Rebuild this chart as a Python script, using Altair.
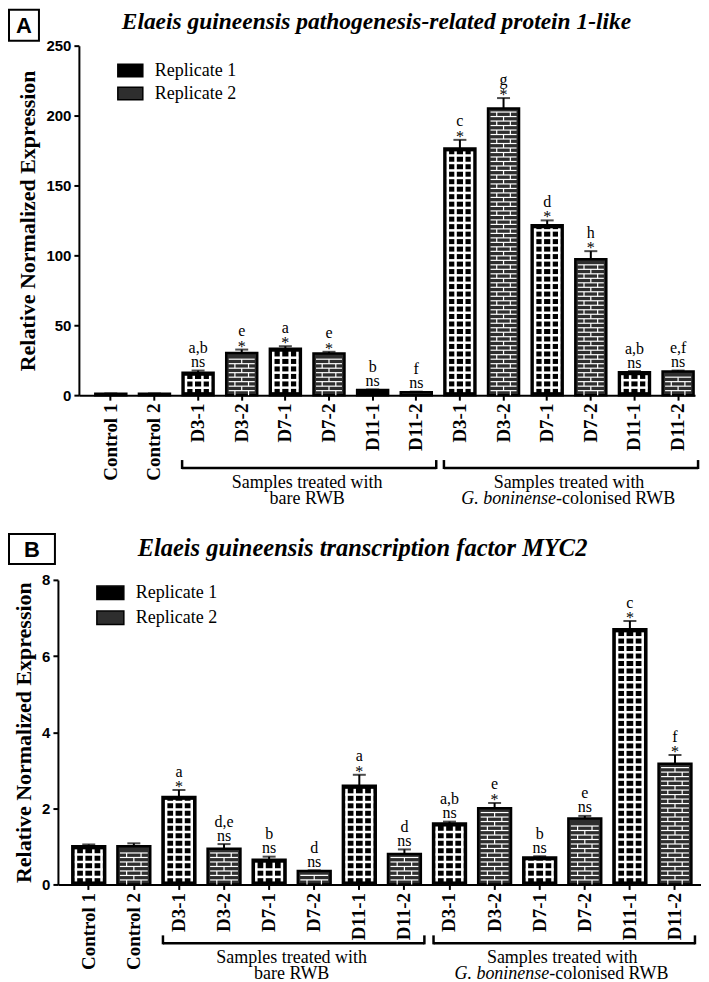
import altair as alt
import pandas as pd

SERIF = "Liberation Serif"
SANS = "Liberation Sans"

LABELS = ["Control 1", "Control 2", "D3-1", "D3-2", "D7-1", "D7-2", "D11-1", "D11-2",
          "D3-1", "D3-2", "D7-1", "D7-2", "D11-1", "D11-2"]
GROUPS = ["ctrl", "ctrl", "bare", "bare", "bare", "bare", "bare", "bare",
          "col", "col", "col", "col", "col", "col"]
REPLICATES = ["Replicate 1", "Replicate 2"] * 7

A_MEAN = [1.0, 1.0, 16.0, 30.2, 33.2, 29.8, 3.6, 2.1, 176.5, 205.0, 121.5, 97.2, 16.4, 17.0]
A_UPPER = [1.2, 1.2, 17.6, 32.6, 35.0, 31.0, 4.0, 2.5, 182.6, 212.5, 125.0, 103.0, 17.2, 17.6]
A_LETTER = ["", "", "a,b", "e", "a", "e", "b", "f", "c", "g", "d", "h", "a,b", "e,f"]
A_SIG = ["", "", "ns", "*", "*", "*", "ns", "ns", "*", "*", "*", "*", "ns", "ns"]
A_TICKS = [0, 50, 100, 150, 200, 250]

B_MEAN = [1.0, 1.0, 2.30, 0.94, 0.65, 0.35, 2.59, 0.80, 1.60, 2.00, 0.71, 1.73, 6.70, 3.17]
B_UPPER = [1.05, 1.08, 2.48, 1.06, 0.73, 0.37, 2.88, 0.92, 1.65, 2.14, 0.74, 1.80, 6.92, 3.40]
B_LETTER = ["", "", "a", "d,e", "b", "d", "a", "d", "a,b", "e", "b", "e", "c", "f"]
B_SIG = ["", "", "*", "ns", "ns", "ns", "*", "ns", "ns", "*", "ns", "ns", "*", "*"]
B_TICKS = [0, 2, 4, 6, 8]

TITLE_A = "Elaeis guineensis pathogenesis-related protein 1-like"
TITLE_B = "Elaeis guineensis transcription factor MYC2"

KEYS = [f"{l}|{g}" for l, g in zip(LABELS, GROUPS)]


def make_panel(mean, upper, letter, sig, ticks, W, r0, H, pI, pO, al, leg, title, tx, ty,
               tsize, box, boxletter, brk_y, ysize):
    ymax = ticks[-1]
    ppu = H / ymax
    step = (W - r0) / (len(KEYS) - pI + 2 * pO)
    bw = step * (1 - pI)
    df = pd.DataFrame({"key": KEYS, "rep": REPLICATES, "mean": mean, "upper": upper,
                       "letter": letter, "sig": sig})
    base = alt.Chart(df)

    xscale = alt.Scale(domain=KEYS, range=[r0, W], paddingInner=pI, paddingOuter=pO,
                       align=al)
    xaxis = alt.Axis(labelExpr="split(datum.label, '|')[0]", labelAngle=-90,
                     labelFont=SERIF, labelFontWeight="bold", labelFontSize=19,
                     labelPadding=3, tickSize=5, tickWidth=2, domainWidth=2,
                     labelAlign="right", labelBaseline="middle", labelOverlap=False,
                     title=None)
    yscale = alt.Scale(domain=[0, ymax], nice=False, zero=True)
    yaxis = alt.Axis(values=ticks, labelFont=SANS, labelFontWeight="bold", labelFontSize=15,
                     tickSize=5, tickWidth=2, domainWidth=2, labelPadding=3,
                     title="Relative Normalized Expression", titleFont=SERIF,
                     titleFontSize=ysize, titleFontWeight="bold", titlePadding=6,
                     grid=False, offset=-r0)

    def xq(field):
        return alt.X(f"{field}:N", scale=xscale, axis=xaxis, title=None, bandPosition=0.5)

    def xb(field):
        return alt.X(f"{field}:N", scale=xscale, axis=xaxis, title=None)

    def yq(field):
        return alt.Y(f"{field}:Q", scale=yscale, axis=yaxis,
                     title="Relative Normalized Expression")

    bars = base.mark_bar(stroke="black", strokeWidth=2.5).encode(
        x=xb("key"), y=yq("mean"),
        color=alt.Color("rep:N", scale=alt.Scale(domain=["Replicate 1", "Replicate 2"],
                                                  range=["#000000", "#2e2e2e"]),
                        legend=alt.Legend(title=None, orient="none", legendX=leg[0],
                                          legendY=leg[1],
                                          symbolType="M-1,-0.5H1V0.5H-1Z",
                                          symbolSize=leg[2], symbolStrokeColor="black",
                                          symbolStrokeWidth=1.5, symbolOpacity=1,
                                          labelFont=SERIF, labelFontSize=18,
                                          labelColor="black", labelOffset=11,
                                          rowPadding=leg[3])))

    def tall(rep):
        return base.transform_filter(f"datum.rep == '{rep}' && datum.mean * {ppu} > 10")

    def rows(rep, step_px, thick):
        st = step_px / ppu
        inset = 3.0 / ppu
        return tall(rep).transform_calculate(
            ks=f"sequence(1, floor((datum.mean - {inset}) / {st}) + 1)"
        ).transform_flatten(["ks"]).transform_calculate(
            yy=f"datum.ks * {st}"
        ).mark_tick(color="white", thickness=thick, size=bw - 5, opacity=1).encode(
            x=xq("key"), y=yq("yy"))

    layers = [bars, rows("Replicate 1", 7.5, 2.5), rows("Replicate 2", 4.5, 1.2)]
    # grid pattern (replicate 1)
    for off in [-0.39 * bw, -0.14 * bw, 0.14 * bw, 0.39 * bw]:
        layers.append(tall("Replicate 1").mark_rule(
            color="white", strokeWidth=2.5, xOffset=off, yOffset=3, y2Offset=-3
        ).encode(x=xq("key"), y=yq("mean"), y2=alt.datum(0)))
    # brick joints (replicate 2)
    st2 = 4.5 / ppu
    ins2 = 3.0 / ppu
    for parity, offs in [(0, [-0.22 * bw, 0.22 * bw]), (1, [0.0])]:
        bricks = tall("Replicate 2").transform_calculate(
            ks=f"sequence(0, floor((datum.mean - {ins2}) / {st2}))"
        ).transform_flatten(["ks"]).transform_filter(
            f"datum.ks % 2 == {parity}"
        ).transform_calculate(y0=f"datum.ks * {st2}", y1=f"(datum.ks + 1) * {st2}")
        for off in offs:
            layers.append(bricks.mark_rule(color="white", strokeWidth=1.2,
                                           xOffset=off).encode(
                x=xq("key"), y=yq("y0"), y2="y1:Q"))

    # error bars
    layers.append(base.mark_rule(color="black", strokeWidth=2).encode(
        x=xq("key"), y=yq("mean"), y2="upper:Q"))
    layers.append(base.mark_tick(color="black", thickness=2, size=13).encode(
        x=xq("key"), y=yq("upper")))

    # significance and letters
    layers.append(base.transform_filter("datum.sig != ''").transform_calculate(
        sy=f"datum.upper + (datum.sig == 'ns' ? {3.5 / ppu} : {-2.0 / ppu})"
    ).mark_text(font=SERIF, fontSize=16, baseline="alphabetic", color="black").encode(
        x=xq("key"), y=yq("sy"), text="sig:N"))
    layers.append(base.transform_filter("datum.letter != ''").transform_calculate(
        ly=f"datum.upper + (datum.sig == 'ns' ? {17.5 / ppu} : {13.5 / ppu})"
    ).mark_text(font=SERIF, fontSize=16, baseline="alphabetic", color="black").encode(
        x=xq("key"), y=yq("ly"), text="letter:N"))

    # brackets
    bdf = pd.DataFrame({"s": [KEYS[2], KEYS[8]], "e": [KEYS[7], KEYS[13]],
                        "m": [KEYS[4], KEYS[10]]})
    bbase = alt.Chart(bdf)
    by = H + brk_y
    layers.append(bbase.mark_rule(color="black", strokeWidth=2.5, xOffset=-16,
                                  x2Offset=20).encode(
        x=xq("s"), x2=alt.X2("e:N", bandPosition=0.5), y=alt.value(by)))
    layers.append(bbase.mark_rule(color="black", strokeWidth=2.5, xOffset=-16).encode(
        x=xq("s"), y=alt.value(by + 1), y2=alt.value(by - 8)))
    layers.append(bbase.mark_rule(color="black", strokeWidth=2.5, xOffset=20).encode(
        x=xq("e"), y=alt.value(by + 1), y2=alt.value(by - 8)))

    half = step / 2
    tdf1 = pd.DataFrame({"m": [KEYS[4], KEYS[10]],
                         "t": ["Samples treated with", "Samples treated with"]})
    layers.append(alt.Chart(tdf1).mark_text(font=SERIF, fontSize=18, baseline="middle",
                                            dx=half, color="black").encode(
        x=xq("m"), y=alt.value(by + 15), text="t:N"))
    tdf2 = pd.DataFrame({"m": [KEYS[4]], "t": ["bare RWB"]})
    layers.append(alt.Chart(tdf2).mark_text(font=SERIF, fontSize=18, baseline="middle",
                                            dx=half, color="black").encode(
        x=xq("m"), y=alt.value(by + 31), text="t:N"))
    tdf3 = pd.DataFrame({"m": [KEYS[10]], "t": ["G. boninense"]})
    layers.append(alt.Chart(tdf3).mark_text(font=SERIF, fontSize=18, baseline="middle",
                                            fontStyle="italic", align="right",
                                            dx=half - 13, color="black").encode(
        x=xq("m"), y=alt.value(by + 31), text="t:N"))
    tdf4 = pd.DataFrame({"m": [KEYS[10]], "t": ["-colonised RWB"]})
    layers.append(alt.Chart(tdf4).mark_text(font=SERIF, fontSize=18, baseline="middle",
                                            align="left", dx=half - 13,
                                            color="black").encode(
        x=xq("m"), y=alt.value(by + 31), text="t:N"))

    # panel letter box and title
    pdf = pd.DataFrame({"p": [boxletter], "title": [title]})
    layers.append(alt.Chart(pdf).mark_rect(fill="white", stroke="black",
                                           strokeWidth=2).encode(
        x=alt.value(box[0]), x2=alt.value(box[1]), y=alt.value(box[2]),
        y2=alt.value(box[3])))
    layers.append(alt.Chart(pdf).mark_text(font=SANS, fontWeight="bold", fontSize=22,
                                           baseline="middle", align="center",
                                           color="black").encode(
        x=alt.value((box[0] + box[1]) / 2), y=alt.value((box[2] + box[3]) / 2 + 1),
        text="p:N"))
    layers.append(alt.Chart(pdf).mark_text(font=SERIF, fontWeight="bold", fontStyle="italic",
                                           fontSize=tsize, baseline="middle", align="center",
                                           color="black").encode(
        x=alt.value(tx), y=alt.value(ty), text="title:N"))

    return alt.layer(*layers).properties(width=W, height=H)


panel_a = make_panel(A_MEAN, A_UPPER, A_LETTER, A_SIG, A_TICKS, 638, 21, 350, 0.29, 0.2045,
                     0.92, (59, 11.5, 625, -3), TITLE_A, 319, -24, 23.5,
                     (-49, -19, -36, -5), "A", 73, 22)
panel_b = make_panel(B_MEAN, B_UPPER, B_LETTER, B_SIG, B_TICKS, 644, 0, 305, 0.272, 0.266,
                     0.60, (38, -1.5, 729, -2), TITLE_B, 305, -31, 24.5,
                     (-49, -3, -46, -16), "B", 59, 22)

chart = alt.concat(panel_a, panel_b, columns=1, spacing=25, align="none").resolve_scale(
    x="independent", y="independent", color="independent"
).resolve_legend(color="independent").properties(
    padding={"left": 0, "top": 0, "right": 0, "bottom": 0}
).configure_view(stroke=None).configure_axis(
    domainColor="black", tickColor="black", labelColor="black", titleColor="black"
)

chart.save("out.html", embed_options={"renderer": "svg", "actions": False})
